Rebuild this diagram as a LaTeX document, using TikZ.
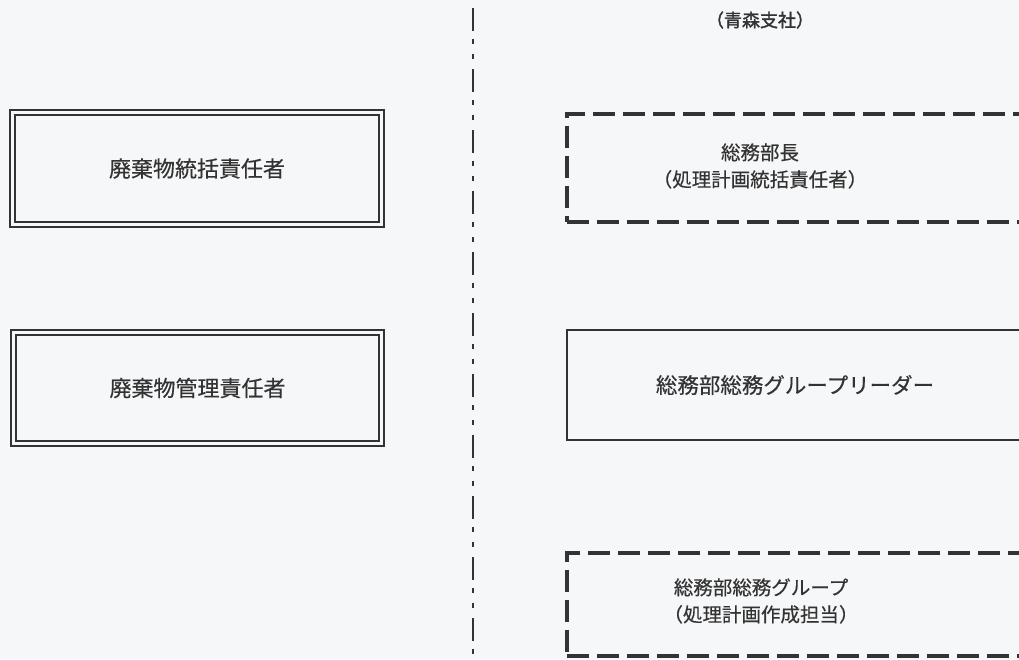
\documentclass[tikz,border=0pt]{standalone}
\usepackage{fontspec}
\newfontfamily\jp[FakeBold=0.4]{Noto Sans CJK JP}
\newfontfamily\jpbold[FakeBold=1.8]{Noto Sans CJK JP}
\definecolor{ink}{HTML}{333333}
\definecolor{bg}{HTML}{F6F7F8}
\begin{document}
\begin{tikzpicture}[x=1pt,y=-1pt,
  dblbox/.style={draw=ink, line width=2pt, double=bg, double distance=3pt, inner sep=0pt,
    text=ink, font=\jp\fontsize{22}{27}\selectfont},
  dashbox/.style={draw=ink, line width=3.5pt, dash pattern=on 22pt off 8pt, inner sep=0pt},
  solidbox/.style={draw=ink, line width=2pt, inner sep=0pt},
  lbl/.style={text=ink, font=\jp\fontsize{19.5}{27}\selectfont, align=center, inner sep=0pt},
  ttl/.style={text=ink, font=\jpbold\fontsize{18}{22}\selectfont, inner sep=0pt},
  sep/.style={draw=ink, line width=2.5pt, dash pattern=on 23pt off 8pt on 5pt off 10pt on 5pt off 10pt}
]
\useasboundingbox (0,0) rectangle (1019,659);
\fill[bg] (0,0) rectangle (1019,659);
\clip (0,0) rectangle (1019,659);

% separator
\coordinate (vtop) at (473,8);
\coordinate (vbot) at (473,680);
\draw[sep] (vtop) -- (vbot);

% left boxes
\node[dblbox, anchor=north west, minimum width=369pt, minimum height=112pt] (lb1) at (11.5,111.5) {廃棄物統括責任者};
\node[dblbox, anchor=north west, minimum width=368pt, minimum height=111pt] (lb2) at (12.5,331.5) {廃棄物管理責任者};

% right boxes
\node[dashbox, anchor=north west, minimum width=480pt, minimum height=108pt] (rb1) at (565,112) {};
\node[solidbox, anchor=north west, minimum width=480pt, minimum height=110pt] (rb2) at (566,329) {};
\node[dashbox, anchor=north west, minimum width=480pt, minimum height=103pt] (rb3) at (565,551) {};

% texts
\node[ttl] (title) at (760,20) {（青森支社）};
\node[lbl] (t1) at (760,166) {総務部長\\（処理計画統括責任者）};
\node[lbl, font=\jp\fontsize{21.5}{27}\selectfont] (t2) at (795,385) {総務部総務グループリーダー};
\node[lbl] (t3) at (761,601) {総務部総務グループ\\（処理計画作成担当）};
\end{tikzpicture}
\end{document}
